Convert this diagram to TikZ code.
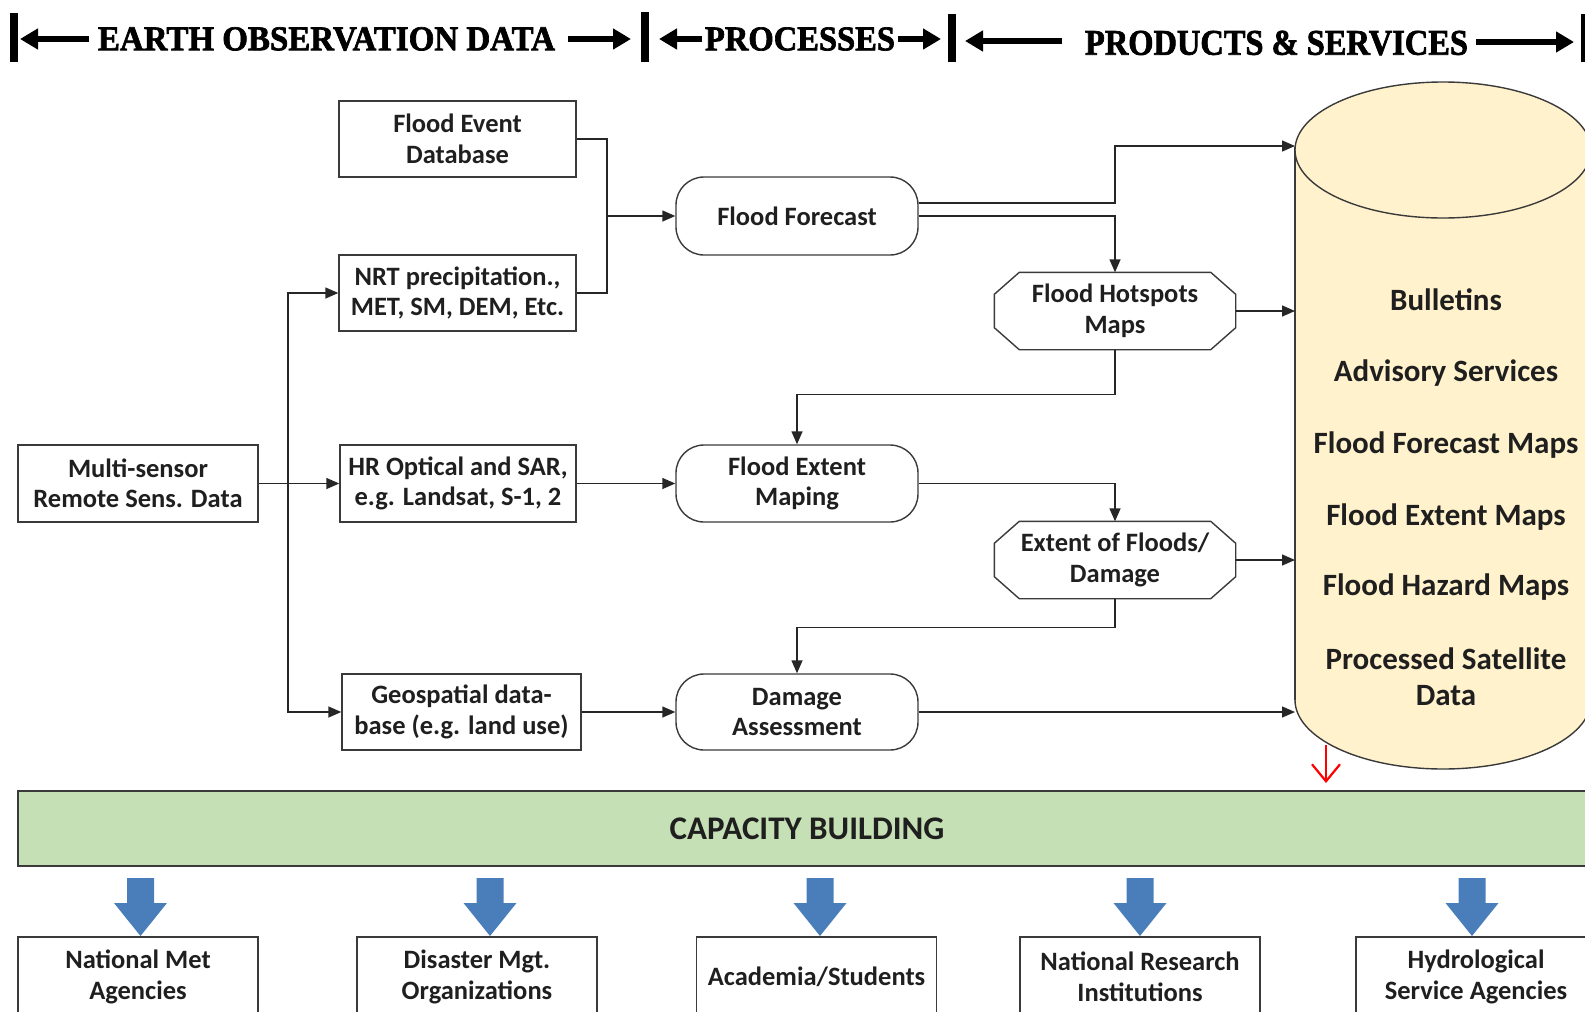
\documentclass[tikz,border=0pt]{standalone}
\usepackage{fontspec}
\setmainfont{Carlito}
\newfontfamily\hdrfont[BoldFeatures={FakeBold=2}]{Liberation Serif}
\usetikzlibrary{arrows.meta}
\definecolor{cylfill}{HTML}{FFF2CC}
\definecolor{capfill}{HTML}{C5E0B4}
\definecolor{blockblue}{HTML}{4A7EBB}
\definecolor{edge}{HTML}{3A3A3A}
\begin{document}
\begin{tikzpicture}[x=1pt,y=-1pt,
  box/.style={draw=edge, line width=1.4pt, fill=white, minimum width=237pt, minimum height=76pt,
    align=center, font=\fontsize{26.5}{30.5}\selectfont\bfseries, text=black!88, inner sep=0pt},
  rbox/.style={box, rounded corners=28pt},
  obox/.style={box, draw=none, fill=none},
  octline/.style={draw=edge, line width=1.4pt},
  conn/.style={draw=black!85, line width=1.4pt},
  arr/.style={conn, -{Triangle[length=13pt,width=11pt]}},
  hdrarr/.style={line width=6pt, -{Triangle[length=18pt,width=20pt]}},
  hdrtext/.style={inner sep=0pt, anchor=center},
  cyltext/.style={font=\fontsize{31}{36}\selectfont\bfseries, text=black!88, align=center, inner sep=0pt},
  bbox/.style={box, minimum width=240pt, minimum height=80pt},
  blockarr/.style={fill=blockblue}
]
\useasboundingbox (0,0) rectangle (1585,1012);
\clip (0,0) rectangle (1585,1012);

% ---------- header ----------
\fill (10,13) rectangle (18,62);
\fill (641,12) rectangle (649,62);
\fill (948,14) rectangle (956,62);
\fill (1581,14) rectangle (1589,62);
\coordinate (h1a) at (89,39);   \coordinate (h1b) at (20,39);
\coordinate (h2a) at (568,39);  \coordinate (h2b) at (631,39);
\coordinate (h3a) at (702,39);  \coordinate (h3b) at (659,39);
\coordinate (h4a) at (898,39);  \coordinate (h4b) at (941,39);
\coordinate (h5a) at (1062,41); \coordinate (h5b) at (965,41);
\coordinate (h6a) at (1476,42); \coordinate (h6b) at (1574,42);
\draw[hdrarr] (h1a) -- (h1b);
\draw[hdrarr] (h2a) -- (h2b);
\draw[hdrarr] (h3a) -- (h3b);
\draw[hdrarr] (h4a) -- (h4b);
\draw[hdrarr] (h5a) -- (h5b);
\draw[hdrarr] (h6a) -- (h6b);
\node[hdrtext] (t1) at (326.5,39) {\resizebox{457pt}{23pt}{\hdrfont\bfseries EARTH OBSERVATION DATA}};
\node[hdrtext] (t2) at (800,39) {\resizebox{190pt}{23pt}{\hdrfont\bfseries PROCESSES}};
\node[hdrtext] (t3) at (1276.5,43) {\resizebox{383pt}{24pt}{\hdrfont\bfseries PRODUCTS \& SERVICES}};

% ---------- cylinder ----------
\fill[cylfill] (1295,147) rectangle (1591,700);
\fill[cylfill] (1443,700) ellipse [x radius=148pt, y radius=69pt];
\draw[octline] (1295,147) -- (1295,700);
\draw[octline] (1591,147) -- (1591,700);
\draw[octline] (1295,700) arc[start angle=180, end angle=360, x radius=148pt, y radius=69pt];
\filldraw[fill=cylfill, octline] (1443,150) ellipse [x radius=148pt, y radius=68pt];
\node[cyltext] (p1) at (1446,300) {Bulletins};
\node[cyltext] (p2) at (1446,373) {Advisory Services};
\node[cyltext] (p3) at (1446,445) {Flood Forecast Maps};
\node[cyltext] (p4) at (1446,517) {Flood Extent Maps};
\node[cyltext] (p5) at (1446,587) {Flood Hazard Maps};
\node[cyltext] (p6) at (1446,677) {Processed Satellite\\Data};
\coordinate (c1) at (1295,146);
\coordinate (c2) at (1295,311);
\coordinate (c3) at (1295,560);
\coordinate (c4) at (1295,712);

% ---------- boxes ----------
\node[box] (fed) at (457.5,139) {Flood Event\\Database};
\node[box] (nrt) at (457.5,293) {NRT precipitation.,\\MET, SM, DEM, Etc.};
\node[box, minimum width=240pt, minimum height=77pt] (ms) at (138,483.5) {Multi-sensor\\Remote Sens. Data};
\node[box, minimum width=236pt, minimum height=77pt] (hr) at (458,483.5) {HR Optical and SAR,\\e.g. Landsat, S-1, 2};
\node[box, minimum width=239pt] (geo) at (461.5,712) {Geospatial data-\\base (e.g. land use)};
\node[rbox, minimum width=242pt, minimum height=78pt] (ff) at (797,216) {Flood Forecast};
\node[rbox, minimum width=242pt, minimum height=77pt] (fem) at (797,483.5) {Flood Extent\\Maping};
\node[rbox, minimum width=242pt] (da) at (797,712) {Damage\\Assessment};
\node[obox, minimum width=240pt] (fhm) at (1115,311) {Flood Hotspots\\Maps};
\node[obox, minimum width=240pt] (efd) at (1115,560) {Extent of Floods/\\Damage};
\foreach \n in {fhm,efd}
  \draw[octline] ([xshift=25pt]\n.north west) -- ([xshift=-25pt]\n.north east)
    -- ([yshift=-22pt]\n.north east) -- ([yshift=22pt]\n.south east)
    -- ([xshift=-25pt]\n.south east) -- ([xshift=25pt]\n.south west)
    -- ([yshift=22pt]\n.south west) -- ([yshift=-22pt]\n.north west) -- cycle;

% ---------- connectors ----------
\coordinate (j1) at (607,216);
\coordinate (j2) at (288,483.5);
\draw[conn] (fed.east) -| (j1);
\draw[conn] (nrt.east) -| (j1);
\draw[arr] (j1) -- (ff.west);
\draw[conn] (ms.east) -- (j2);
\draw[arr] (j2) -- (hr.west);
\draw[arr] (j2) |- (nrt.west);
\draw[arr] (j2) |- (geo.west);
\draw[arr] (hr.east) -- (fem.west);
\draw[arr] (geo.east) -- (da.west);
\draw[arr] ([yshift=13pt]ff.east) -| (fhm.north |- c1) -- (c1);
\draw[arr] (ff.east) -| (fhm.north);
\draw[arr] (fhm.east) -- (c2);
\draw[arr] (fhm.south) -- ++(0,45) -| (fem.north);
\draw[arr] (fem.east) -| (efd.north);
\draw[arr] (efd.east) -- (c3);
\draw[arr] (efd.south) -- ++(0,29) -| (da.north);
\draw[arr] (da.east) -- (c4);

% red arrow
\coordinate (ra1) at (1326,745);
\coordinate (ra2) at (1326,783);
\draw[red, line width=2.2pt, -{Straight Barb[length=17pt,width=28pt]}] (ra1) -- (ra2);

% ---------- capacity building ----------
\node[draw=edge, line width=1.6pt, fill=capfill, minimum width=1578pt, minimum height=75pt,
  font=\fontsize{33}{38}\selectfont\bfseries, text=black!88, inner sep=0pt] (cap) at (807,828.5) {CAPACITY BUILDING};

% ---------- bottom boxes ----------
\node[bbox] (b1) at (138,977) {National Met\\Agencies};
\node[bbox] (b2) at (477,977) {Disaster Mgt.\\Organizations};
\node[bbox] (b3) at (816.5,977) {Academia/Students};
\node[bbox] (b4) at (1140,977) {National Research\\Institutions};
\node[bbox] (b5) at (1476,977) {Hydrological\\Service Agencies};

\foreach \x in {140.5,490,820,1140,1472}
  \fill[blockarr] ({\x-13.5},878) -- ({\x+13.5},878) -- ({\x+13.5},903) -- ({\x+26.5},903)
    -- (\x,936) -- ({\x-26.5},903) -- ({\x-13.5},903) -- cycle;
\end{tikzpicture}
\end{document}
